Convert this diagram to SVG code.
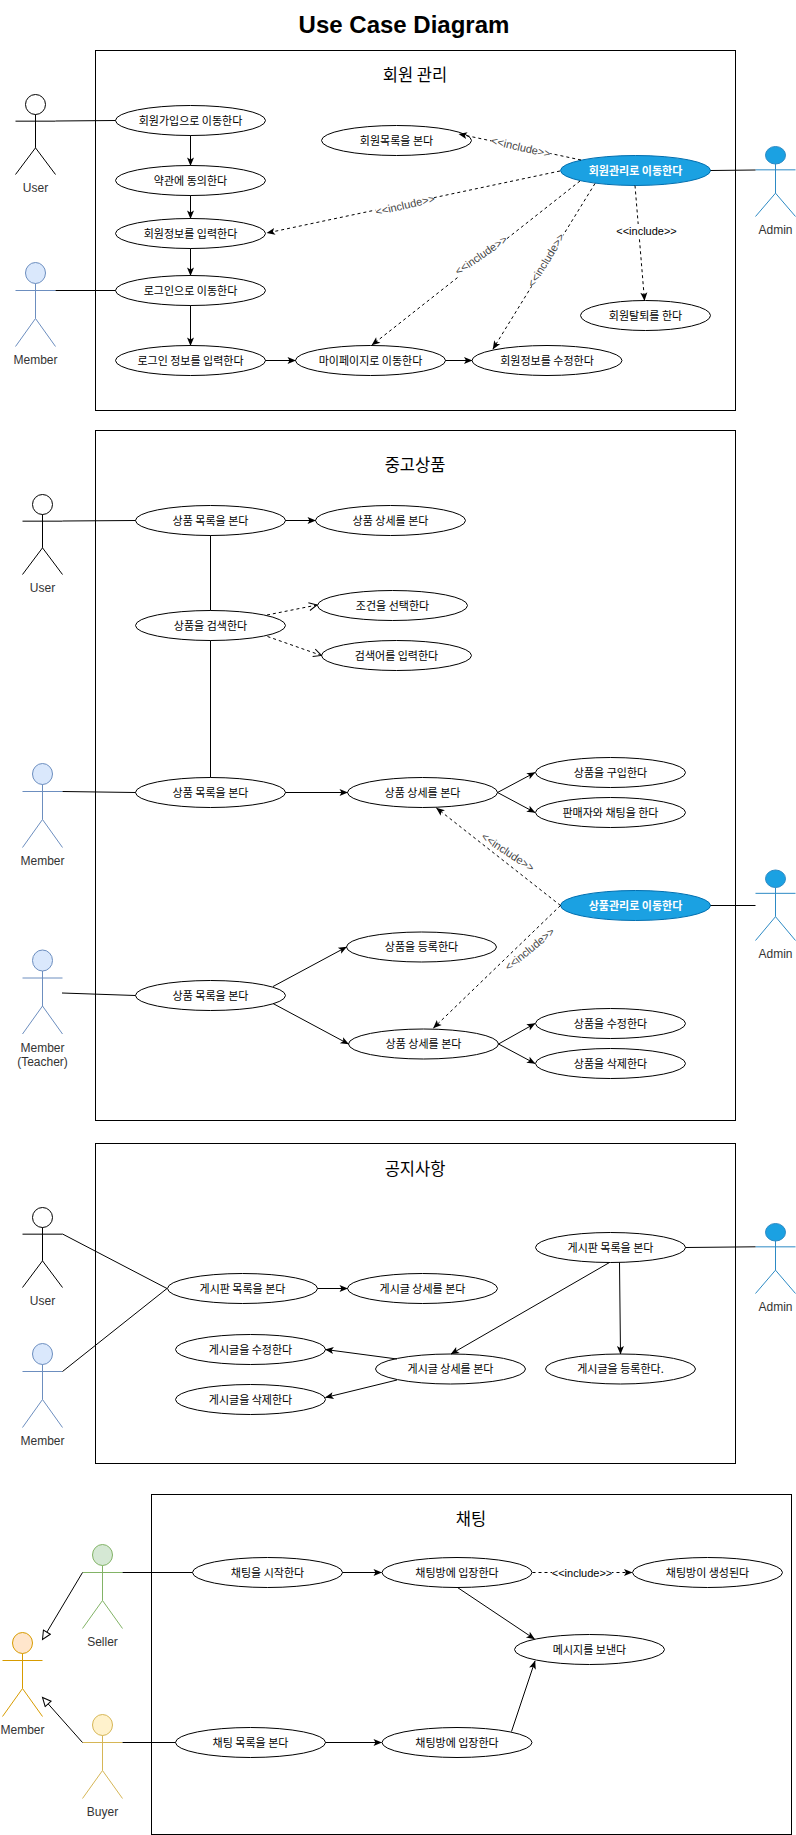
<svg xmlns="http://www.w3.org/2000/svg" width="796" height="1835" viewBox="0 0 796 1835">
<style>
text{font-family:"Noto Sans CJK KR","Liberation Sans",sans-serif;text-anchor:middle;fill:#000}
.title{font-family:"Liberation Sans",Arial,sans-serif;font-size:24px;font-weight:bold}
.ft{font-size:16.5px}
.u{font-size:11px}
.a{font-family:"Liberation Sans",Arial,sans-serif;font-size:12px;fill:#333}
.i{font-family:"Liberation Sans",Arial,sans-serif;font-size:11px;fill:#444}
.frame{fill:#fff;stroke:#000;stroke-width:1}
.uc{fill:#fff;stroke:#000;stroke-width:1}
.adm{fill:#1ba1e2;stroke:#006eaf}
.adt{fill:#fff;font-weight:bold}
.bg{fill:#fff}
.ak{fill:#fff;stroke:#000}
.bl{fill:#dae8fc;stroke:#6c8ebf}
.ab{fill:#1ba1e2;stroke:#2d8ac4}
.gr{fill:#d5e8d4;stroke:#82b366}
.or{fill:#ffe6cc;stroke:#d79b00}
.ye{fill:#fff2cc;stroke:#d6b656}
.lb{fill:none}
#connectors line{stroke:#000;stroke-width:1;fill:none}
#connectors .ar{marker-end:url(#cl)}
#connectors .d{stroke-dasharray:3 3;marker-end:url(#cl)}
#connectors .o{stroke-dasharray:3 3;marker-end:url(#op)}
#connectors .g{marker-end:url(#tr)}
</style>
<defs>
<marker id="cl" markerUnits="userSpaceOnUse" markerWidth="10" markerHeight="9" viewBox="0 0 10 9" refX="8.5" refY="4.5" orient="auto"><path d="M0.5,1 L9,4.5 L0.5,8 L2.5,4.5 Z" fill="#000"/></marker>
<marker id="op" markerUnits="userSpaceOnUse" markerWidth="10" markerHeight="10" viewBox="0 0 10 10" refX="8.5" refY="5" orient="auto"><path d="M0.5,1 L8.5,5 L0.5,9" fill="none" stroke="#000"/></marker>
<marker id="tr" markerUnits="userSpaceOnUse" markerWidth="11" markerHeight="10" viewBox="0 0 11 10" refX="9.5" refY="5" orient="auto"><path d="M1,1 L9.5,5 L1,9 Z" fill="#fff" stroke="#000"/></marker>
</defs>

<rect width="796" height="1835" fill="#fff"/>
<text id="title" class="title" x="404" y="33">Use Case Diagram</text>

<g id="frames">
<rect class="frame" x="95.5" y="50.5" width="640" height="360"/>
<text class="ft" x="415" y="81">회원 관리</text>
<rect class="frame" x="95.5" y="430.5" width="640" height="690"/>
<text class="ft" x="415" y="471">중고상품</text>
<rect class="frame" x="95.5" y="1143.5" width="640" height="320"/>
<text class="ft" x="415" y="1175">공지사항</text>
<rect class="frame" x="151.5" y="1494.5" width="640" height="340"/>
<text class="ft" x="471" y="1525">채팅</text>
</g>

<g id="actors">
<g id="actor-user-1"><ellipse class="ak" cx="35.5" cy="104.5" rx="10" ry="10"/><path class="ak lb" d="M35.5,114.5V147.83M15.5,121.17H55.5M15.5,174.5L35.5,147.83L55.5,174.5"/><text class="a" x="35.5" y="192">User</text></g>
<g id="actor-member-1"><ellipse class="bl" cx="35.5" cy="273" rx="10" ry="10.5"/><path class="bl lb" d="M35.5,283.5V318.5M15.5,290.5H55.5M15.5,346.5L35.5,318.5L55.5,346.5"/><text class="a" x="35.5" y="364">Member</text></g>
<g id="actor-admin-1"><ellipse class="ab" cx="775.5" cy="155.25" rx="10" ry="8.75"/><path class="ab lb" d="M775.5,164V193.17M755.5,169.83H795.5M755.5,216.5L775.5,193.17L795.5,216.5"/><text class="a" x="775.5" y="234">Admin</text></g>
<g id="actor-user-2"><ellipse class="ak" cx="42.5" cy="504.5" rx="10" ry="10"/><path class="ak lb" d="M42.5,514.5V547.83M22.5,521.17H62.5M22.5,574.5L42.5,547.83L62.5,574.5"/><text class="a" x="42.5" y="591.5">User</text></g>
<g id="actor-member-2"><ellipse class="bl" cx="42.5" cy="774" rx="10" ry="10.5"/><path class="bl lb" d="M42.5,784.5V819.5M22.5,791.5H62.5M22.5,847.5L42.5,819.5L62.5,847.5"/><text class="a" x="42.5" y="865">Member</text></g>
<g id="actor-teacher"><ellipse class="bl" cx="42.5" cy="960.5" rx="10" ry="10.5"/><path class="bl lb" d="M42.5,971V1006M22.5,978H62.5M22.5,1034L42.5,1006L62.5,1034"/><text class="a" x="42.5" y="1052">Member</text><text class="a" x="42.5" y="1066">(Teacher)</text></g>
<g id="actor-admin-2"><ellipse class="ab" cx="775.5" cy="878.75" rx="10" ry="8.75"/><path class="ab lb" d="M775.5,887.5V916.67M755.5,893.33H795.5M755.5,940.5L775.5,916.67L795.5,940.5"/><text class="a" x="775.5" y="957.5">Admin</text></g>
<g id="actor-user-3"><ellipse class="ak" cx="42.5" cy="1217.5" rx="10" ry="10"/><path class="ak lb" d="M42.5,1227.5V1260.83M22.5,1234.17H62.5M22.5,1287.5L42.5,1260.83L62.5,1287.5"/><text class="a" x="42.5" y="1305">User</text></g>
<g id="actor-member-3"><ellipse class="bl" cx="42.5" cy="1354" rx="10" ry="10.5"/><path class="bl lb" d="M42.5,1364.5V1399.5M22.5,1371.5H62.5M22.5,1427.5L42.5,1399.5L62.5,1427.5"/><text class="a" x="42.5" y="1445">Member</text></g>
<g id="actor-admin-3"><ellipse class="ab" cx="775.5" cy="1232.25" rx="10" ry="8.75"/><path class="ab lb" d="M775.5,1241V1270.17M755.5,1246.83H795.5M755.5,1293.5L775.5,1270.17L795.5,1293.5"/><text class="a" x="775.5" y="1311">Admin</text></g>
<g id="actor-seller"><ellipse class="gr" cx="102.5" cy="1555" rx="10" ry="10.5"/><path class="gr lb" d="M102.5,1565.5V1600.5M82.5,1572.5H122.5M82.5,1628.5L102.5,1600.5L122.5,1628.5"/><text class="a" x="102.5" y="1646">Seller</text></g>
<g id="actor-buyer"><ellipse class="ye" cx="102.5" cy="1725" rx="10" ry="10.5"/><path class="ye lb" d="M102.5,1735.5V1770.5M82.5,1742.5H122.5M82.5,1798.5L102.5,1770.5L122.5,1798.5"/><text class="a" x="102.5" y="1816">Buyer</text></g>
<g id="actor-member-4"><ellipse class="or" cx="22.5" cy="1643" rx="10" ry="10.5"/><path class="or lb" d="M22.5,1653.5V1688.5M2.5,1660.5H42.5M2.5,1716.5L22.5,1688.5L42.5,1716.5"/><text class="a" x="22.5" y="1734">Member</text></g>
</g>

<g id="usecases">
<g id="uc1"><ellipse class="uc" cx="190.5" cy="120.5" rx="75" ry="15"/><text class="u" x="190.5" y="124.5">회원가입으로 이동한다</text></g>
<g id="uc2"><ellipse class="uc" cx="190.5" cy="180.5" rx="75" ry="15"/><text class="u" x="190.5" y="184.5">약관에 동의한다</text></g>
<g id="uc3"><ellipse class="uc" cx="190.5" cy="233.5" rx="75" ry="15"/><text class="u" x="190.5" y="237.5">회원정보를 입력한다</text></g>
<g id="uc4"><ellipse class="uc" cx="190.5" cy="290.5" rx="75" ry="15"/><text class="u" x="190.5" y="294.5">로그인으로 이동한다</text></g>
<g id="uc5"><ellipse class="uc" cx="190.5" cy="360.5" rx="75" ry="15"/><text class="u" x="190.5" y="364.5">로그인 정보를 입력한다</text></g>
<g id="uc6"><ellipse class="uc" cx="370.5" cy="360.5" rx="75" ry="15"/><text class="u" x="370.5" y="364.5">마이페이지로 이동한다</text></g>
<g id="uc7"><ellipse class="uc" cx="547" cy="360.5" rx="75" ry="15"/><text class="u" x="547" y="364.5">회원정보를 수정한다</text></g>
<g id="uc8"><ellipse class="uc" cx="396.5" cy="140.5" rx="75" ry="15"/><text class="u" x="396.5" y="144.5">회원목록을 본다</text></g>
<g id="uc9"><ellipse class="uc adm" cx="635.5" cy="170.5" rx="75" ry="15"/><text class="u adt" x="635.5" y="174.5">회원관리로 이동한다</text></g>
<g id="uc10"><ellipse class="uc" cx="645.5" cy="315.5" rx="65" ry="15"/><text class="u" x="645.5" y="319.5">회원탈퇴를 한다</text></g>

<g id="uc11"><ellipse class="uc" cx="210.5" cy="520.5" rx="75" ry="15"/><text class="u" x="210.5" y="524.5">상품 목록을 본다</text></g>
<g id="uc12"><ellipse class="uc" cx="390.5" cy="520.5" rx="75" ry="15"/><text class="u" x="390.5" y="524.5">상품 상세를 본다</text></g>
<g id="uc13"><ellipse class="uc" cx="210.5" cy="625.5" rx="75" ry="15"/><text class="u" x="210.5" y="629.5">상품을 검색한다</text></g>
<g id="uc14"><ellipse class="uc" cx="392.5" cy="605.5" rx="75" ry="15"/><text class="u" x="392.5" y="609.5">조건을 선택한다</text></g>
<g id="uc15"><ellipse class="uc" cx="396.5" cy="655.5" rx="75" ry="15"/><text class="u" x="396.5" y="659.5">검색어를 입력한다</text></g>
<g id="uc16"><ellipse class="uc" cx="210.5" cy="792.5" rx="75" ry="15"/><text class="u" x="210.5" y="796.5">상품 목록을 본다</text></g>
<g id="uc17"><ellipse class="uc" cx="422.5" cy="792.5" rx="75" ry="15"/><text class="u" x="422.5" y="796.5">상품 상세를 본다</text></g>
<g id="uc18"><ellipse class="uc" cx="610.5" cy="772.5" rx="75" ry="15"/><text class="u" x="610.5" y="776.5">상품을 구입한다</text></g>
<g id="uc19"><ellipse class="uc" cx="610.5" cy="812.5" rx="75" ry="15"/><text class="u" x="610.5" y="816.5">판매자와 채팅을 한다</text></g>
<g id="uc20"><ellipse class="uc adm" cx="635.5" cy="905.5" rx="75" ry="15"/><text class="u adt" x="635.5" y="909.5">상품관리로 이동한다</text></g>
<g id="uc21"><ellipse class="uc" cx="210.5" cy="995.5" rx="75" ry="15"/><text class="u" x="210.5" y="999.5">상품 목록을 본다</text></g>
<g id="uc22"><ellipse class="uc" cx="421.5" cy="947" rx="75" ry="15"/><text class="u" x="421.5" y="951">상품을 등록한다</text></g>
<g id="uc23"><ellipse class="uc" cx="423.5" cy="1044" rx="75" ry="15"/><text class="u" x="423.5" y="1048">상품 상세를 본다</text></g>
<g id="uc24"><ellipse class="uc" cx="610.5" cy="1023.5" rx="75" ry="15"/><text class="u" x="610.5" y="1027.5">상품을 수정한다</text></g>
<g id="uc25"><ellipse class="uc" cx="610.5" cy="1063.5" rx="75" ry="15"/><text class="u" x="610.5" y="1067.5">상품을 삭제한다</text></g>

<g id="uc26"><ellipse class="uc" cx="242.5" cy="1288.5" rx="75" ry="15"/><text class="u" x="242.5" y="1292.5">게시판 목록을 본다</text></g>
<g id="uc27"><ellipse class="uc" cx="422.5" cy="1288.5" rx="75" ry="15"/><text class="u" x="422.5" y="1292.5">게시글 상세를 본다</text></g>
<g id="uc28"><ellipse class="uc" cx="610.5" cy="1247.5" rx="75" ry="15"/><text class="u" x="610.5" y="1251.5">게시판 목록을 본다</text></g>
<g id="uc29"><ellipse class="uc" cx="250.5" cy="1349.5" rx="75" ry="15"/><text class="u" x="250.5" y="1353.5">게시글을 수정한다</text></g>
<g id="uc30"><ellipse class="uc" cx="250.5" cy="1399.5" rx="75" ry="15"/><text class="u" x="250.5" y="1403.5">게시글을 삭제한다</text></g>
<g id="uc31"><ellipse class="uc" cx="450.5" cy="1369" rx="75" ry="15"/><text class="u" x="450.5" y="1373">게시글 상세를 본다</text></g>
<g id="uc32"><ellipse class="uc" cx="620.5" cy="1369" rx="75" ry="15"/><text class="u" x="620.5" y="1373">게시글을 등록한다.</text></g>

<g id="uc33"><ellipse class="uc" cx="267.5" cy="1572.5" rx="75" ry="15"/><text class="u" x="267.5" y="1576.5">채팅을 시작한다</text></g>
<g id="uc34"><ellipse class="uc" cx="457" cy="1572.5" rx="75" ry="15"/><text class="u" x="457" y="1576.5">채팅방에 입장한다</text></g>
<g id="uc35"><ellipse class="uc" cx="707.5" cy="1572.5" rx="75" ry="15"/><text class="u" x="707.5" y="1576.5">채팅방이 생성된다</text></g>
<g id="uc36"><ellipse class="uc" cx="589.5" cy="1649.5" rx="75" ry="15"/><text class="u" x="589.5" y="1653.5">메시지를 보낸다</text></g>
<g id="uc37"><ellipse class="uc" cx="250.5" cy="1742.5" rx="75" ry="15"/><text class="u" x="250.5" y="1746.5">채팅 목록을 본다</text></g>
<g id="uc38"><ellipse class="uc" cx="457" cy="1742.5" rx="75" ry="15"/><text class="u" x="457" y="1746.5">채팅방에 입장한다</text></g>
</g>

<g id="connectors">
<line x1="55.5" y1="121" x2="115.5" y2="120.5"/>
<line class="ar" x1="190.5" y1="135.5" x2="190.5" y2="165.5"/>
<line class="ar" x1="190.5" y1="195.5" x2="190.5" y2="218.5"/>
<line class="ar" x1="190.5" y1="248.5" x2="190.5" y2="275.5"/>
<line class="ar" x1="190.5" y1="305.5" x2="190.5" y2="345.5"/>
<line x1="55.5" y1="290.5" x2="115.5" y2="290.5"/>
<line class="ar" x1="265.5" y1="360.5" x2="295.5" y2="360.5"/>
<line class="ar" x1="445.5" y1="360.5" x2="472" y2="360.5"/>
<line x1="710.5" y1="170.5" x2="755.5" y2="170"/>
<line class="d" x1="581" y1="160" x2="459" y2="134"/>
<line class="d" x1="560" y1="171" x2="267" y2="233"/>
<line class="d" x1="580" y1="181" x2="372" y2="345"/>
<line class="d" x1="595" y1="183.5" x2="493" y2="349"/>
<line class="d" x1="635" y1="185.5" x2="644.5" y2="300.5"/>

<line x1="62.5" y1="521" x2="135.5" y2="520.5"/>
<line class="ar" x1="285.5" y1="520.5" x2="315.5" y2="520.5"/>
<line x1="210.5" y1="535.5" x2="210.5" y2="610.5"/>
<line x1="210.5" y1="640.5" x2="210.5" y2="777.5"/>
<line class="o" x1="267" y1="615" x2="317" y2="605"/>
<line class="o" x1="267.5" y1="636.5" x2="321.5" y2="655.5"/>
<line x1="62.5" y1="791.5" x2="135.5" y2="792.5"/>
<line class="ar" x1="285.5" y1="792.5" x2="347.5" y2="792.5"/>
<line class="ar" x1="497.5" y1="792.5" x2="535" y2="772.5"/>
<line class="ar" x1="497.5" y1="792.5" x2="535" y2="812.5"/>
<line class="d" x1="560.5" y1="905.5" x2="436.5" y2="808"/>
<line class="d" x1="560.5" y1="905.5" x2="433.5" y2="1028"/>
<line x1="710.5" y1="905.5" x2="755.5" y2="905.5"/>
<line x1="62" y1="993" x2="135.5" y2="995.5"/>
<line class="ar" x1="273" y1="986.5" x2="346.5" y2="947"/>
<line class="ar" x1="273" y1="1003.5" x2="348.5" y2="1044"/>
<line class="ar" x1="498.5" y1="1044" x2="535" y2="1023.5"/>
<line class="ar" x1="498.5" y1="1044" x2="535" y2="1063.5"/>

<line x1="62.5" y1="1234" x2="167" y2="1288.5"/>
<line x1="62.5" y1="1371.5" x2="167" y2="1288.5"/>
<line class="ar" x1="317.5" y1="1288.5" x2="347.5" y2="1288.5"/>
<line x1="685.5" y1="1247.5" x2="755.5" y2="1246.8"/>
<line class="ar" x1="609.5" y1="1262.5" x2="451" y2="1354"/>
<line class="ar" x1="619.5" y1="1262.5" x2="620.5" y2="1354"/>
<line class="ar" x1="397" y1="1359" x2="325.5" y2="1349.5"/>
<line class="ar" x1="397" y1="1380" x2="325.5" y2="1397.5"/>

<line x1="122.5" y1="1572.5" x2="192.5" y2="1572.5"/>
<line class="ar" x1="342.5" y1="1572.5" x2="381.5" y2="1572.5"/>
<line class="d" x1="532.5" y1="1572.5" x2="632" y2="1572.5"/>
<line class="ar" x1="457.5" y1="1587.5" x2="534.5" y2="1639"/>
<line class="ar" x1="511.5" y1="1731.5" x2="535" y2="1661"/>
<line x1="122.5" y1="1742.5" x2="175.5" y2="1742.5"/>
<line class="ar" x1="325.5" y1="1742.5" x2="381.5" y2="1742.5"/>
<line class="g" x1="82.5" y1="1572.5" x2="42.5" y2="1639.5"/>
<line class="g" x1="82.5" y1="1742.5" x2="42.5" y2="1697.5"/>
</g>

<g id="connector-labels">
<g transform="translate(521 147) rotate(13)"><rect class="bg" x="-30" y="-7" width="60" height="14"/><text class="i" y="4">&lt;&lt;include&gt;&gt;</text></g>
<g transform="translate(405 205) rotate(-13)"><rect class="bg" x="-30" y="-7" width="60" height="14"/><text class="i" y="4">&lt;&lt;include&gt;&gt;</text></g>
<g transform="translate(481 255) rotate(-34.5)"><rect class="bg" x="-30" y="-7" width="60" height="14"/><text class="i" y="4">&lt;&lt;include&gt;&gt;</text></g>
<g transform="translate(546 260) rotate(-58.5)"><rect class="bg" x="-30" y="-7" width="60" height="14"/><text class="i" y="4">&lt;&lt;include&gt;&gt;</text></g>
<rect class="bg" x="617" y="224" width="60" height="14"/><text class="i" style="fill:#000" x="646.5" y="235">&lt;&lt;include&gt;&gt;</text>
<text class="i" transform="translate(508 852) rotate(33.5)" y="4">&lt;&lt;include&gt;&gt;</text>
<text class="i" transform="translate(529.5 949) rotate(-39.5)" y="4">&lt;&lt;include&gt;&gt;</text>
<rect class="bg" x="552" y="1565.5" width="60" height="14"/><text class="i" style="fill:#000" x="582" y="1576.5">&lt;&lt;include&gt;&gt;</text>
</g>
</svg>
